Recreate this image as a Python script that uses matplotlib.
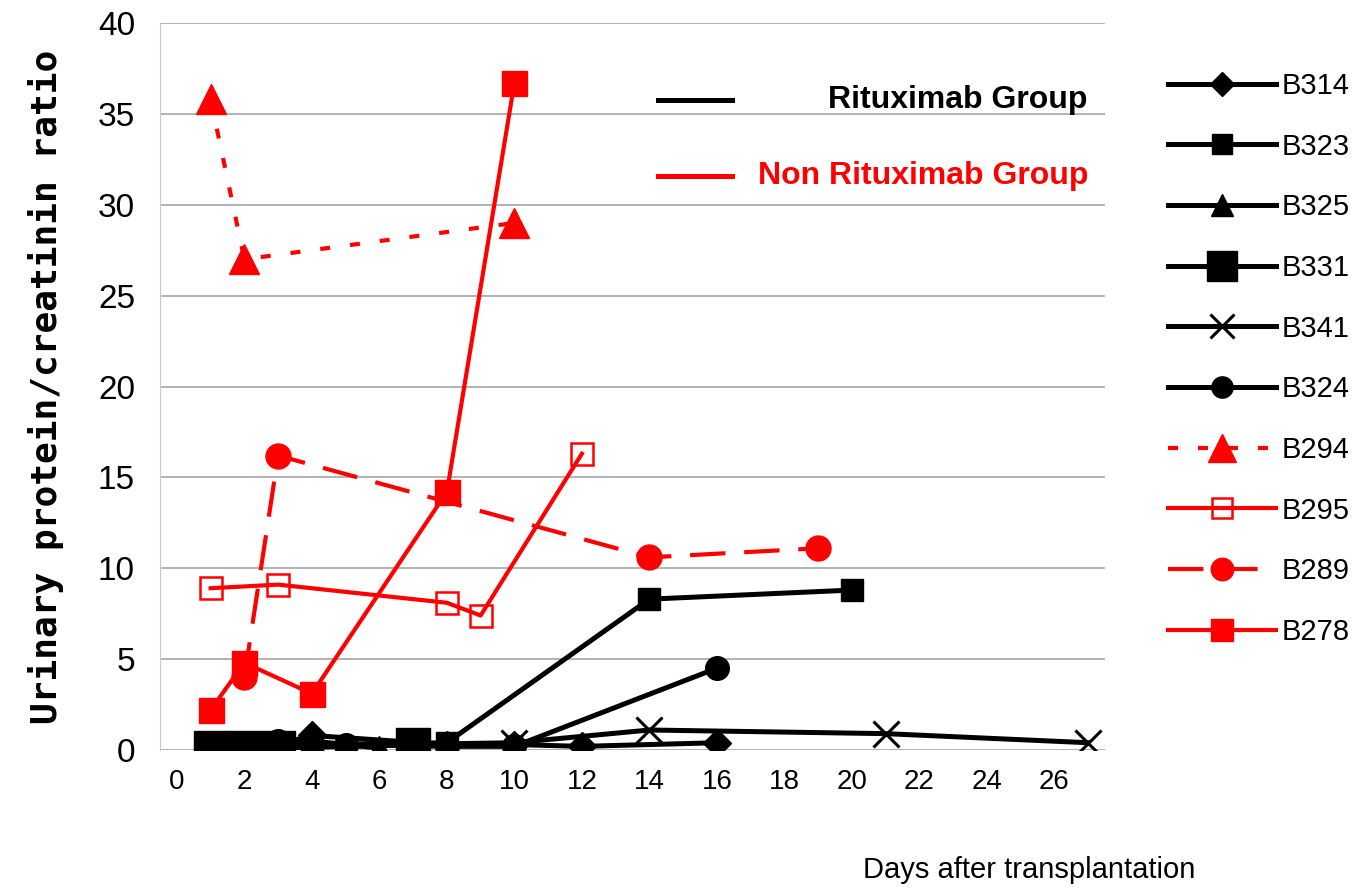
import matplotlib
matplotlib.use('Agg')
import matplotlib.pyplot as plt
from matplotlib.lines import Line2D

# --- data ---
b314_x = [1, 2, 3, 4, 8, 10, 12, 16]
b314_y = [0.2, 0.3, 0.3, 0.8, 0.3, 0.3, 0.2, 0.4]
b323_x = [1, 2, 4, 8, 14, 20]
b323_y = [0.2, 0.2, 0.3, 0.4, 8.3, 8.8]
b325_x = [1, 2, 4, 6]
b325_y = [0.2, 0.3, 0.5, 0.1]
b331_x = [1, 2, 3, 7]
b331_y = [0.1, 0.1, 0.1, 0.3]
b341_x = [2, 3, 10, 14, 21, 27]
b341_y = [0.3, 0.2, 0.4, 1.1, 0.9, 0.4]
b324_x = [3, 5, 8, 10, 16]
b324_y = [0.5, 0.3, 0.2, 0.2, 4.5]
b294_x = [1, 2, 10]
b294_y = [35.8, 27.0, 29.0]
b295_x = [1, 3, 8, 9, 12]
b295_y = [8.9, 9.1, 8.1, 7.4, 16.3]
b289_x = [2, 3, 14, 19]
b289_y = [4.0, 16.2, 10.6, 11.1]
b278_x = [1, 2, 4, 8, 10]
b278_y = [2.2, 4.8, 3.1, 14.2, 36.7]

x_ticks = list(range(0, 27, 2))
y_ticks = list(range(0, 41, 5))

RED = '#ff0000'
BLK = '#000000'
SANS = ['Liberation Sans', 'DejaVu Sans']

fig = plt.figure(figsize=(13.6, 8.9), dpi=100)
ax = fig.add_axes([160 / 1360, 140 / 890, 945 / 1360, 727 / 890])

lw_b = 3.6
lw_r = 3.0
ax.plot(b314_x, b314_y, color=BLK, lw=lw_b, marker='D', ms=14, label='B314')
ax.plot(b323_x, b323_y, color=BLK, lw=lw_b, marker='s', ms=16, label='B323')
ax.plot(b325_x, b325_y, color=BLK, lw=lw_b, marker='^', ms=18, label='B325')
ax.plot(b331_x, b331_y, color=BLK, lw=lw_b, marker='s', ms=24, label='B331')
ax.plot(b341_x, b341_y, color=BLK, lw=lw_b, marker='x', ms=19, mew=2.2, label='B341')
ax.plot(b324_x, b324_y, color=BLK, lw=lw_b, marker='o', ms=17, label='B324')
ax.plot(b294_x, b294_y, color=RED, lw=lw_r, marker='^', ms=22,
        dashes=(2.4, 4.8), label='B294')
ax.plot(b295_x, b295_y, color=RED, lw=lw_r, marker='s', ms=16, mfc='none',
        mew=1.8, label='B295')
ax.plot(b289_x, b289_y, color=RED, lw=lw_r, marker='o', ms=18,
        dashes=(8.5, 4.5), label='B289')
ax.plot(b278_x, b278_y, color=RED, lw=lw_r, marker='s', ms=18, label='B278')

ax.set_xlim(-0.5, 27.5)
ax.set_ylim(0, 40)
ax.set_xticks(x_ticks)
ax.set_yticks(y_ticks)
ax.grid(axis='y', color='#a6a6a6', lw=1.2)
ax.set_axisbelow(True)
for s in ['top', 'right', 'bottom']:
    ax.spines[s].set_visible(False)
ax.spines['left'].set_color('#c8c8c8')
ax.tick_params(length=0)
ax.tick_params(axis='y', pad=18, labelsize=24)
ax.tick_params(axis='x', pad=14, labelsize=20)
for t in ax.get_yticklabels() + ax.get_xticklabels():
    t.set_family(SANS)

ax.set_ylabel('Urinary protein/creatinin ratio', fontsize=26, fontweight='bold',
              family=['DejaVu Sans Mono'], labelpad=24)

fig.text(1195 / 1360, 1 - 870 / 890, 'Days after transplantation', fontsize=21,
         family=SANS, ha='right', va='center')

# patient legend on the right
leg = ax.legend(loc='upper left', bbox_to_anchor=(1168 / 1360, 1 - 72 / 890),
                bbox_transform=fig.transFigure, frameon=False, borderpad=0,
                borderaxespad=0, handlelength=3.7, handletextpad=0.2,
                labelspacing=1.12, prop={'family': SANS, 'size': 21})
for h in leg.legend_handles:
    h.set_markersize(h.get_markersize() * 0.9)

# group legend at the top
for yy, col, txt in [(100, BLK, 'Rituximab Group'), (176, RED, 'Non Rituximab Group')]:
    fig.add_artist(Line2D([658 / 1360, 732 / 1360], [1 - yy / 890, 1 - yy / 890],
                          color=col, lw=3.6, transform=fig.transFigure))
    fig.text(1088 / 1360, 1 - yy / 890, txt, color=col, fontsize=23, fontweight='bold',
             family=SANS, ha='right', va='center')

fig.savefig('out.png', dpi=100)
